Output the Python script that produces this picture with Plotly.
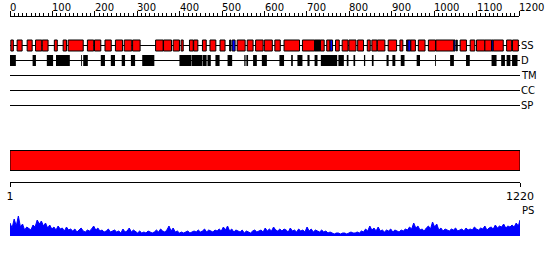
import plotly.graph_objects as go

# ---------------- data ----------------
seq_len = 1220
ruler_ticks = [0, 100, 200, 300, 400, 500, 600, 700, 800, 900, 1000, 1100, 1200]

# secondary structure segments (residues) ; type: H=helix(red), E=strand(blue), K=other(black)
ss_start = [3, 18, 42, 62, 78, 107, 128, 140, 186, 203, 228, 253, 274, 294, 349, 368, 391, 410, 430, 440,
            461, 479, 503, 526, 532, 544, 568, 588, 609, 634, 656, 700, 729, 743, 758, 766, 779, 795, 811, 832,
            855, 866, 879, 905, 933, 949, 952, 959, 977, 1001, 1019, 1062, 1068, 1077, 1101, 1116, 1136, 1152,
            1156, 1188, 1202]
ss_end = [9, 30, 54, 77, 92, 114, 136, 176, 201, 218, 243, 270, 292, 312, 367, 387, 406, 415, 439, 450,
          470, 493, 515, 529, 539, 563, 582, 606, 628, 647, 693, 729, 743, 752, 766, 772, 788, 809, 828, 846,
          862, 878, 897, 925, 940, 952, 959, 970, 993, 1018, 1062, 1065, 1070, 1092, 1112, 1136, 1152, 1156,
          1180, 1200, 1216]
ss_type = ["H", "H", "H", "H", "H", "H", "H", "H", "H", "H", "H", "H", "H", "H", "H", "H", "H", "H", "H", "H",
           "H", "H", "H", "K", "E", "H", "H", "H", "H", "H", "H", "H", "K", "H", "H", "E", "H", "H", "H", "H",
           "H", "H", "H", "H", "H", "H", "E", "H", "H", "H", "H", "E", "K", "H", "H", "H", "H", "E",
           "H", "H", "H"]

# disorder segments (residues)
d_start = [1, 55, 89, 111, 171, 176, 218, 242, 268, 290, 317, 406, 436, 462, 473, 492, 521, 561, 566, 582,
           603, 645, 673, 688, 712, 729, 744, 786, 806, 822, 847, 866, 901, 915, 935, 973, 1017, 1053, 1091,
           1152, 1175, 1188, 1201]
d_end = [15, 63, 104, 144, 173, 187, 228, 252, 276, 300, 346, 435, 461, 471, 481, 502, 532, 564, 570, 591,
         615, 656, 677, 700, 717, 736, 783, 799, 810, 826, 850, 870, 906, 922, 944, 981, 1019, 1062, 1100,
         1164, 1184, 1197, 1214]

# profile (PS) score every 5 residues
ps_pos = list(range(1, 1220, 5)) + [1220]
ps_val = [13, 8, 17, 10, 20, 9, 12, 6, 9, 7,
          6, 11, 9, 16, 12, 15, 10, 13, 8, 11,
          7, 9, 6, 10, 7, 8, 5, 9, 6, 7,
          5, 7, 4, 6, 8, 5, 4, 6, 5, 7,
          10, 6, 8, 5, 6, 4, 5, 7, 4, 5,
          6, 4, 5, 3, 7, 4, 5, 8, 4, 6,
          4, 3, 5, 3, 4, 3, 5, 4, 3, 4,
          6, 4, 7, 5, 4, 6, 10, 5, 8, 4,
          5, 3, 4, 3, 4, 5, 3, 4, 5, 4,
          6, 4, 5, 7, 4, 6, 5, 4, 6, 5,
          7, 5, 9, 6, 10, 5, 7, 4, 6, 5,
          4, 6, 3, 5, 4, 3, 5, 6, 4, 5,
          6, 4, 8, 5, 7, 5, 9, 6, 5, 7,
          5, 7, 6, 4, 8, 5, 6, 4, 7, 5,
          6, 4, 9, 5, 7, 4, 6, 5, 4, 6,
          4, 5, 3, 4, 3, 2, 3, 3, 2, 3,
          3, 2, 3, 4, 3, 3, 4, 3, 5, 4,
          7, 5, 10, 6, 8, 5, 9, 5, 6, 4,
          6, 5, 7, 4, 6, 5, 4, 6, 5, 7,
          6, 9, 7, 13, 8, 10, 6, 7, 5, 8,
          10, 7, 14, 9, 12, 6, 8, 5, 7, 6,
          5, 7, 6, 8, 5, 6, 7, 5, 8, 6,
          7, 6, 9, 7, 6, 8, 7, 10, 6, 8,
          9, 7, 11, 8, 10, 9, 12, 8, 10, 9,
          11, 9, 13, 10, 16]

track_labels = ["SS", "D", "TM", "CC", "SP"]
# ---------------- layout constants (pixels) ----------------
W, H = 550, 260
X0, X1 = 10, 520
track_y = {"SS": 45.5, "D": 60.5, "TM": 75.5, "CC": 90.5, "SP": 105.5}
box_half = 5.5
colors = {"H": "#ff0000", "E": "#0000ff", "K": "#000000"}
FONT = "DejaVu Sans"

fig = go.Figure()

# invisible anchor traces so axes exist
fig.add_trace(go.Scatter(x=[1, seq_len], y=[10, 10], xaxis="x", yaxis="y", mode="none", showlegend=False, hoverinfo="skip"))
fig.add_trace(go.Scatter(x=[0, 1200], y=[10, 10], xaxis="x2", yaxis="y", mode="none", showlegend=False, hoverinfo="skip"))

# profile
fig.add_trace(go.Scatter(x=ps_pos, y=ps_val, xaxis="x3", yaxis="y2", mode="lines",
                         line=dict(color="#0000ff", width=1), fill="tozeroy", fillcolor="#0000ff",
                         showlegend=False, hoverinfo="skip"))

shapes = []
# track base lines
for lab in track_labels:
    yy = track_y[lab]
    shapes.append(dict(type="line", xref="x", yref="y", x0=1, x1=seq_len, y0=yy, y1=yy,
                       line=dict(color="black", width=1)))

# SS boxes
for s, e, t in zip(ss_start, ss_end, ss_type):
    yy = track_y["SS"]
    shapes.append(dict(type="rect", xref="x", yref="y", x0=s, x1=e, y0=yy - box_half, y1=yy + box_half,
                       fillcolor=colors[t], line=dict(color="black", width=1)))
# D boxes
for s, e in zip(d_start, d_end):
    yy = track_y["D"]
    shapes.append(dict(type="rect", xref="x", yref="y", x0=s, x1=e, y0=yy - box_half, y1=yy + box_half,
                       fillcolor="black", line=dict(color="black", width=0)))

# big red bar
shapes.append(dict(type="rect", xref="x", yref="y", x0=1, x1=seq_len, y0=150.5, y1=170.5,
                   fillcolor="#ff0000", line=dict(color="black", width=1)))

annotations = []
for t in ruler_ticks:
    annotations.append(dict(x=t, y=7, xref="x2", yref="y", text=str(t), showarrow=False,
                            xanchor="left", yanchor="middle", xshift=-2,
                            font=dict(family=FONT, size=10, color="black")))
for lab in track_labels:
    annotations.append(dict(x=seq_len, y=track_y[lab], xref="x", yref="y", text=lab, showarrow=False,
                            xanchor="left", yanchor="middle", xshift=-1,
                            font=dict(family=FONT, size=10, color="black")))
annotations.append(dict(x=seq_len, y=210, xref="x", yref="y", text="PS", showarrow=False,
                        xanchor="left", yanchor="middle", xshift=0,
                        font=dict(family=FONT, size=10, color="black")))

fig.update_layout(
    width=W, height=H, margin=dict(l=0, r=0, t=0, b=0, autoexpand=False),
    paper_bgcolor="white", plot_bgcolor="rgba(0,0,0,0)",
    shapes=shapes, annotations=annotations, showlegend=False,
    xaxis=dict(domain=[X0 / W, X1 / W], range=[1, seq_len], anchor="free", position=1 - 181.5 / H,
               showline=True, linecolor="black", linewidth=1, mirror=False, automargin=False,
               tickvals=[1, seq_len], ticktext=["1", str(seq_len)], ticks="outside", ticklen=4,
               tickcolor="black", tickwidth=1, tickfont=dict(family=FONT, size=11, color="black"),
               showgrid=False, zeroline=False, fixedrange=True),
    xaxis2=dict(domain=[X0 / W, 519 / W], range=[0, 1200], anchor="free", position=1 - 15.5 / H,
                side="top", showline=True, linecolor="black", linewidth=1, automargin=False,
                tickmode="linear", tick0=0, dtick=100, ticks="outside", ticklen=5, tickcolor="black",
                showticklabels=False, showgrid=False, zeroline=False,
                minor=dict(dtick=10, ticks="outside", ticklen=3, tickcolor="black", showgrid=False),
                fixedrange=True),
    xaxis3=dict(domain=[X0 / W, X1 / W], range=[1, seq_len], anchor="y2", visible=False,
                automargin=False, fixedrange=True),
    yaxis=dict(domain=[0, 1], range=[H, 0], visible=False, fixedrange=True, automargin=False),
    yaxis2=dict(domain=[1 - 236 / H, 1 - 211 / H], range=[0, 25], visible=False, anchor="x3",
                fixedrange=True, automargin=False),
)

fig.write_html("out.html")
